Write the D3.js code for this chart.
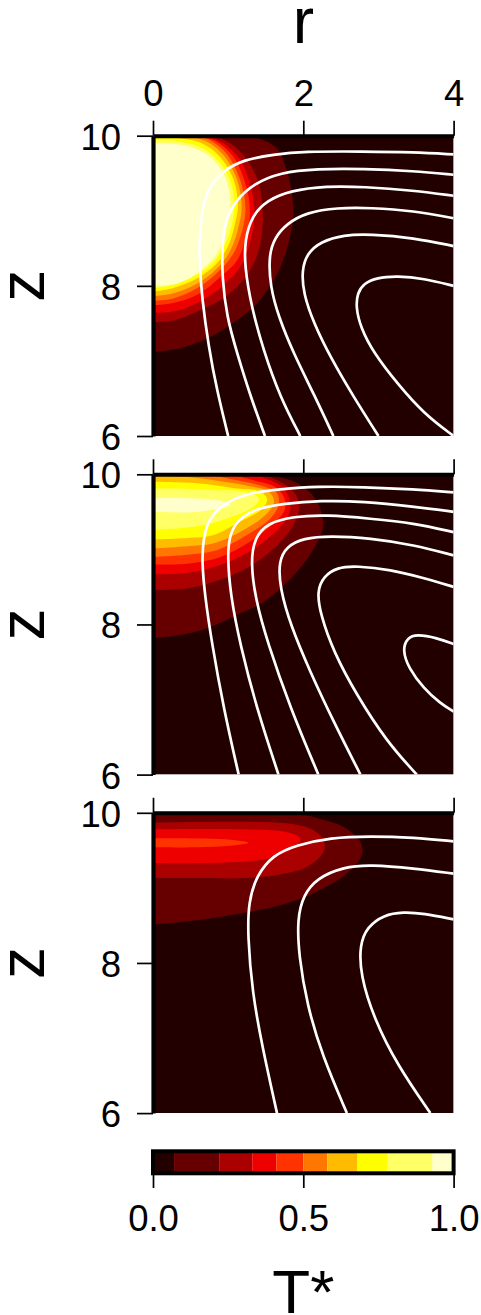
<!DOCTYPE html>
<html><head><meta charset="utf-8">
<script src="https://cdn.jsdelivr.net/npm/d3@7"></script>
<style>html,body{margin:0;padding:0;background:#fff}svg{display:block}text{font-family:"Liberation Sans",Arial,sans-serif;fill:#000}</style>
</head><body><svg id="c" width="481" height="1315"></svg>
<script>
const levelColors=["#230000","#660000","#aa0000","#ee0000","#ff3300","#ff7700","#ffbb00","#ffff00","#ffff66","#ffffcc"];
const levelBreaks=[0,0.07,0.22,0.33,0.41,0.5,0.58,0.68,0.78,0.93,1];
const rTicks=[0,2,4];
const zTicks=[6,8,10];
const barTicks=[0,0.5,1];
const panelTops=[135.7,474.3,812.8];
const showTopLabels=[true,false,false];

const bands1=[
[[0,7.12],[.36,7.17],[.72,7.30],[1.03,7.48],[1.34,7.72],[1.61,8.08],[1.78,8.48],[1.86,8.88],[1.86,9.14],[1.78,9.54],[1.65,9.83],[1.47,9.94],[1.21,10]],
[[0,7.52],[.27,7.54],[.59,7.66],[.90,7.81],[1.16,8.03],[1.36,8.34],[1.45,8.70],[1.46,8.97],[1.41,9.36],[1.25,9.68],[1.03,9.90],[.81,10]],
[[0,7.64],[.32,7.67],[.63,7.79],[.94,8.01],[1.16,8.25],[1.30,8.61],[1.35,8.97],[1.29,9.36],[1.16,9.68],[.94,9.90],[.72,10]],
[[0,7.74],[.27,7.77],[.59,7.88],[.90,8.12],[1.12,8.34],[1.25,8.70],[1.29,9.01],[1.23,9.36],[1.07,9.72],[.85,9.92],[.65,10]],
[[0,7.80],[.27,7.83],[.59,7.97],[.85,8.17],[1.07,8.43],[1.20,8.79],[1.23,9.05],[1.16,9.41],[.98,9.76],[.76,9.94],[.59,10]],
[[0,7.86],[.27,7.90],[.59,8.03],[.85,8.23],[1.03,8.47],[1.14,8.79],[1.18,9.05],[1.12,9.41],[.94,9.74],[.72,9.92],[.45,10]],
[[0,7.92],[.27,7.97],[.59,8.10],[.85,8.30],[1.0,8.53],[1.09,8.82],[1.13,9.08],[1.07,9.42],[.89,9.72],[.65,9.90],[.32,9.97],[0,9.97]],
[[0,7.97],[.27,8.01],[.59,8.15],[.83,8.34],[.97,8.58],[1.05,8.82],[1.08,9.10],[1.02,9.42],[.84,9.70],[.6,9.86],[.3,9.93],[0,9.94]],
[[0,8.0],[.32,8.03],[.59,8.17],[.85,8.43],[.98,8.79],[1.03,9.10],[.96,9.45],[.76,9.72],[.50,9.85],[.2,9.9],[0,9.9]]
];
const bands2=[
[[0,7.82],[.36,7.86],[.72,7.95],[1.12,8.13],[1.47,8.30],[1.83,8.61],[2.09,8.93],[2.25,9.24],[2.26,9.41],[2.14,9.70],[1.92,9.88],[1.65,9.97],[1.25,10]],
[[0,8.46],[.45,8.48],[.81,8.57],[1.21,8.73],[1.56,8.97],[1.83,9.26],[1.94,9.50],[1.94,9.64],[1.83,9.81],[1.65,9.92],[1.47,10]],
[[0,8.67],[.36,8.68],[.76,8.75],[1.21,8.93],[1.56,9.17],[1.78,9.41],[1.83,9.59],[1.74,9.81],[1.56,9.92],[1.34,10]],
[[0,8.80],[.45,8.81],[.90,8.90],[1.29,9.10],[1.61,9.35],[1.75,9.52],[1.74,9.70],[1.61,9.84],[1.34,9.92],[1.03,10]],
[[0,8.90],[.45,8.93],[.85,8.99],[1.25,9.19],[1.56,9.41],[1.67,9.59],[1.65,9.75],[1.47,9.84],[1.12,9.92],[.72,10]],
[[0,9.01],[.45,9.04],[.81,9.08],[1.21,9.26],[1.52,9.48],[1.61,9.64],[1.54,9.77],[1.29,9.84],[.94,9.90],[.50,9.96],[0,9.98]],
[[0,9.13],[.45,9.15],[.81,9.19],[1.16,9.37],[1.43,9.52],[1.52,9.66],[1.43,9.77],[1.12,9.81],[.59,9.88],[0,9.90]],
[[0,9.26],[.36,9.28],[.72,9.33],[1.07,9.44],[1.34,9.57],[1.41,9.68],[1.21,9.77],[.76,9.79],[.32,9.81],[0,9.81]],
[[0,9.50],[.45,9.49],[.76,9.52],[1.03,9.59],[.94,9.64],[.45,9.68],[0,9.68]]
];
const bands3=[
[[0,8.51],[.59,8.57],[1.16,8.66],[1.69,8.77],[2.18,8.95],[2.58,9.19],[2.78,9.44],[2.76,9.61],[2.54,9.81],[2.18,9.93],[1.92,10]],
[[0,9.13],[.59,9.13],[1.21,9.13],[1.65,9.17],[2.05,9.28],[2.27,9.48],[2.27,9.64],[2.09,9.79],[1.78,9.86],[1.25,9.88],[0,9.87]],
[[0,9.33],[1.03,9.34],[1.61,9.41],[1.92,9.57],[1.96,9.66],[1.78,9.74],[1.21,9.78],[0,9.78]],
[[0,9.54],[.59,9.54],[1.03,9.56],[1.27,9.60],[1.03,9.64],[.36,9.66],[0,9.66]]
];
const lines1=[
[[4,9.75],[3.47,9.78],[2.8,9.79],[2,9.79],[1.605,9.75],[1.206,9.68],[.94,9.54],[.74,9.32],[.65,9.01],[.62,8.65],[.62,8.30],[.65,7.85],[.74,7.19],[.85,6.61],[1.0,6]],
[[4,9.48],[3.47,9.53],[2.8,9.56],[2.18,9.56],[1.69,9.51],[1.34,9.36],[1.10,9.14],[.96,8.87],[.92,8.52],[.92,8.12],[.98,7.59],[1.12,7.10],[1.30,6.52],[1.49,6]],
[[4,9.20],[3.47,9.27],[2.8,9.32],[2.31,9.33],[1.83,9.27],[1.52,9.14],[1.32,8.94],[1.22,8.61],[1.22,8.25],[1.31,7.72],[1.47,7.14],[1.69,6.52],[1.96,6]],
[[4,8.90],[3.47,9.0],[2.89,9.04],[2.45,9.04],[2.05,8.98],[1.78,8.83],[1.61,8.63],[1.54,8.39],[1.56,7.99],[1.67,7.59],[1.87,7.10],[2.14,6.56],[2.40,6]],
[[4,8.53],[3.47,8.64],[2.89,8.69],[2.54,8.68],[2.23,8.59],[2.05,8.43],[1.98,8.21],[2.0,7.90],[2.14,7.50],[2.36,7.05],[2.67,6.52],[3.0,6]],
[[4,8.0],[3.6,8.10],[3.25,8.13],[2.98,8.11],[2.80,8.03],[2.72,7.90],[2.70,7.72],[2.76,7.45],[2.94,7.10],[3.25,6.70],[3.60,6.30],[4,6]]
];
const lines2=[
[[4,9.76],[3.47,9.80],[2.8,9.83],[2.18,9.84],[1.69,9.80],[1.25,9.75],[.94,9.61],[.74,9.41],[.67,9.15],[.65,8.84],[.69,8.39],[.78,7.77],[.94,6.88],[1.14,6]],
[[4,9.50],[3.47,9.57],[2.8,9.64],[2.23,9.65],[1.74,9.61],[1.38,9.55],[1.12,9.39],[1.02,9.19],[.99,8.93],[1.03,8.39],[1.16,7.73],[1.38,6.88],[1.67,6]],
[[4,9.23],[3.47,9.35],[2.89,9.41],[2.31,9.46],[1.87,9.44],[1.52,9.35],[1.35,9.15],[1.30,8.84],[1.36,8.35],[1.52,7.77],[1.83,6.88],[2.20,6]],
[[4,8.92],[3.47,9.06],[2.89,9.15],[2.36,9.18],[2.0,9.15],[1.78,9.04],[1.67,8.84],[1.69,8.48],[1.83,7.99],[2.09,7.37],[2.40,6.71],[2.76,6]],
[[4,8.50],[3.6,8.62],[3.16,8.73],[2.71,8.78],[2.45,8.76],[2.27,8.64],[2.18,8.44],[2.23,8.13],[2.40,7.64],[2.71,7.06],[3.11,6.44],[3.51,6]],
[[4,7.74],[3.78,7.82],[3.51,7.87],[3.38,7.82],[3.32,7.66],[3.40,7.42],[3.60,7.15],[3.82,6.95],[4,6.84]]
];
const lines3=[
[[4,9.62],[3.47,9.67],[2.89,9.69],[2.36,9.67],[1.91,9.57],[1.60,9.44],[1.38,9.17],[1.27,8.81],[1.26,8.37],[1.32,7.62],[1.45,6.90],[1.65,6]],
[[4,9.19],[3.47,9.26],[2.89,9.31],[2.54,9.28],[2.18,9.13],[2.0,8.90],[1.92,8.59],[1.94,8.10],[2.05,7.44],[2.25,6.77],[2.58,6]],
[[4,8.58],[3.6,8.66],[3.33,8.68],[3.07,8.64],[2.85,8.48],[2.75,8.24],[2.76,7.84],[2.94,7.26],[3.25,6.64],[3.69,6]]
];
const panels=[{bands:bands1,lines:lines1},{bands:bands2,lines:lines2},{bands:bands3,lines:lines3}];

const svg=d3.select("#c");
const x=d3.scaleLinear().domain([0,4]).range([153,453.6]);
const barX=d3.scaleLinear().domain([0,1]).range([153,453.6]);
const defs=svg.append("defs");
const styleAxis=(g,w)=>{g.select(".domain").attr("stroke","#000").attr("stroke-width",w);
 g.selectAll(".tick line").attr("stroke","#000").attr("stroke-width",1.7);
 g.selectAll(".tick text").style("font-size","36.5px").attr("fill","#000");};

panels.forEach((p,i)=>{
 const top=panelTops[i];
 const y=d3.scaleLinear().domain([6,10]).range([top+300.3,top]);
 const g=svg.append("g");
 const cid="clip"+i;
 defs.append("clipPath").attr("id",cid).append("rect").attr("x",x(0)).attr("y",y(10)).attr("width",x(4)-x(0)).attr("height",y(6)-y(10));
 const plot=g.append("g").attr("clip-path",`url(#${cid})`);
 plot.append("rect").attr("x",x(0)).attr("y",y(10)).attr("width",x(4)-x(0)).attr("height",y(6)-y(10)).attr("fill",levelColors[0]);
 const ln=d3.line().x(d=>x(d[0])).y(d=>y(d[1])).curve(d3.curveCatmullRom.alpha(0.5));
 const smooth=d3.line().x(d=>x(d[0])).y(d=>y(d[1])).curve(d3.curveBasis);
 plot.selectAll("path.band").data(p.bands).join("path").attr("class","band")
  .attr("d",d=>ln(d)+`L${x(0)},${y(d[d.length-1][1])}Z`)
  .attr("fill",(d,j)=>levelColors[j+1]);
 plot.selectAll("path.ct").data(p.lines).join("path").attr("class","ct")
  .attr("d",smooth).attr("fill","none").attr("stroke","#fff").attr("stroke-width",2.7);
 const ax=d3.axisTop(x).tickValues(rTicks).tickFormat(showTopLabels[i]?d3.format("d"):"").tickSize(15).tickPadding(15).tickSizeOuter(0);
 const a=g.append("g").attr("transform",`translate(0,${y(10)})`).call(ax);styleAxis(a,4);
 const ay=d3.axisLeft(y).tickValues(zTicks).tickFormat(d3.format("d")).tickSize(16).tickPadding(16).tickSizeOuter(0);
 const b=g.append("g").attr("transform",`translate(${x(0)},0)`).call(ay);styleAxis(b,4.2);
 b.selectAll(".tick text").attr("dy","0.37em");
 g.append("text").attr("transform",`translate(44,${y(8)}) rotate(-90)`).attr("text-anchor","middle").style("font-size","64px").text("z");
});

svg.append("text").attr("x",x(2)).attr("y",43).attr("text-anchor","middle").style("font-size","64px").text("r");

// colour bar
const bar=svg.append("g");
const cells=d3.range(levelColors.length).map(i=>({a:levelBreaks[i],b:levelBreaks[i+1],c:levelColors[i]}));
bar.selectAll("rect.cell").data(cells).join("rect").attr("class","cell")
 .attr("x",d=>barX(d.a)).attr("y",1152).attr("width",d=>barX(d.b)-barX(d.a)).attr("height",20).attr("fill",d=>d.c);
bar.append("rect").attr("x",barX(0)).attr("y",1151.3).attr("width",barX(1)-barX(0)).attr("height",22).attr("fill","none").attr("stroke","#000").attr("stroke-width",4);
const axb=d3.axisBottom(barX).tickValues(barTicks).tickFormat(d3.format(".1f")).tickSize(15).tickPadding(17).tickSizeOuter(0);
const ab=bar.append("g").attr("transform","translate(0,1173)").call(axb);styleAxis(ab,0);
svg.append("text").attr("x",x(2)).attr("y",1313).attr("text-anchor","middle").style("font-size","62px").text("T*");
</script></body></html>
